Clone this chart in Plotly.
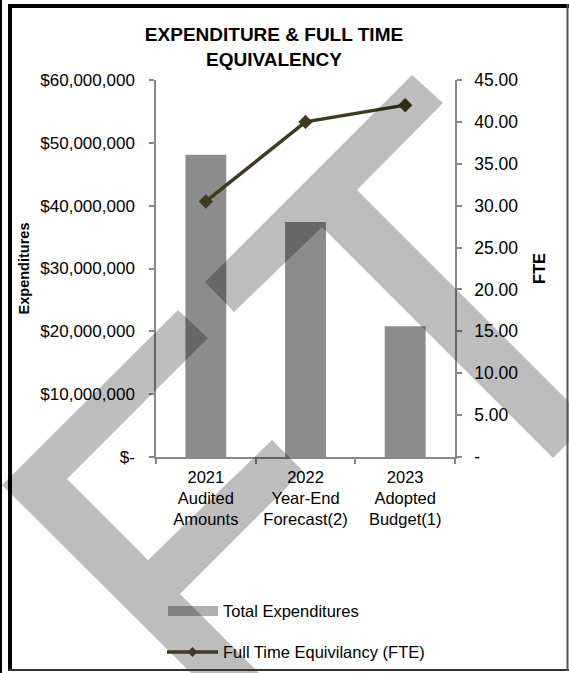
import plotly.graph_objects as go

# ---------------- data ----------------
categories = ["2021<br>Audited<br>Amounts", "2022<br>Year-End<br>Forecast(2)", "2023<br>Adopted<br>Budget(1)"]
expenditures = [48100000, 37400000, 20800000]
fte = [30.5, 40.0, 42.0]

exp_tickvals = [0, 10000000, 20000000, 30000000, 40000000, 50000000, 60000000]
exp_ticktext = ["$-", "$10,000,000", "$20,000,000", "$30,000,000", "$40,000,000", "$50,000,000", "$60,000,000"]
fte_tickvals = [0, 5, 10, 15, 20, 25, 30, 35, 40, 45]
fte_ticktext = ["-", "5.00", "10.00", "15.00", "20.00", "25.00", "30.00", "35.00", "40.00", "45.00"]

series_names = ["Total Expenditures", "Full Time Equivilancy (FTE)"]

# ---------------- layout constants ----------------
W, H = 569, 673
ML, MR, MT, MB = 156, 114, 80, 216
PW, PH = W - ML - MR, H - MT - MB
FONT = "Liberation Sans, Arial, sans-serif"
BAR_COLOR = "#8c8c8c"
LINE_COLOR = "#3f3a22"
AXIS_COLOR = "#888888"


def px(x):
    return (x - ML) / PW


def py(y):
    return (MT + PH - y) / PH


def path(pts):
    return "M " + " L ".join(f"{px(x):.5f},{py(y):.5f}" for x, y in pts) + " Z"


fig = go.Figure()
fig.add_trace(go.Bar(
    x=categories, y=expenditures, name=series_names[0],
    marker=dict(color=BAR_COLOR, line=dict(width=0)), width=0.41,
    yaxis="y", showlegend=False,
))
fig.add_trace(go.Scatter(
    x=categories, y=fte, name=series_names[1], yaxis="y2",
    mode="lines+markers",
    line=dict(color=LINE_COLOR, width=3.5),
    marker=dict(symbol="diamond", size=11, color=LINE_COLOR),
    showlegend=False,
))

shapes = []
# watermark (decorative stamp)
wm1 = [(2, 485), (178, 310), (208, 338), (67, 479), (148, 560), (272, 440), (303, 471),
       (180, 594), (259, 673), (191, 673)]
wm2 = [(205, 282), (412, 75), (443, 103), (357, 190), (569, 402), (569, 442), (553, 458),
       (322, 227), (234, 312)]
for poly in (wm1, wm2):
    shapes.append(dict(type="path", path=path(poly), xref="paper", yref="paper",
                       fillcolor="rgba(0,0,0,0.26)", line=dict(width=0), layer="above"))

# manual legend
shapes.append(dict(type="rect", xref="paper", yref="paper",
                   x0=px(168), x1=px(218), y0=py(616), y1=py(606),
                   fillcolor="#b0b0b0", line=dict(width=0), layer="below"))
shapes.append(dict(type="line", xref="paper", yref="paper",
                   x0=px(167), x1=px(218), y0=py(652), y1=py(652),
                   line=dict(color=LINE_COLOR, width=3.5)))
shapes.append(dict(type="path", xref="paper", yref="paper",
                   path=path([(192.5, 647), (197.5, 652), (192.5, 657), (187.5, 652)]),
                   fillcolor=LINE_COLOR, line=dict(width=0)))

# frame borders
shapes += [
    dict(type="line", xref="paper", yref="paper", x0=px(8), x1=px(569), y0=py(6), y1=py(6),
         line=dict(color="black", width=4)),
    dict(type="line", xref="paper", yref="paper", x0=px(10), x1=px(10), y0=py(4), y1=py(671),
         line=dict(color="black", width=4)),
    dict(type="line", xref="paper", yref="paper", x0=px(8), x1=px(569), y0=py(670), y1=py(670),
         line=dict(color="#333333", width=2)),
    dict(type="line", xref="paper", yref="paper", x0=px(567.5), x1=px(567.5), y0=py(4), y1=py(671),
         line=dict(color="#555555", width=2)),
    dict(type="line", xref="paper", yref="paper", x0=px(1), x1=px(1), y0=py(0), y1=py(673),
         line=dict(color="black", width=2)),
]

annotations = [
    dict(text=series_names[0], xref="paper", yref="paper", x=px(221), y=py(611),
         xanchor="left", yanchor="middle", showarrow=False,
         font=dict(family=FONT, size=16.5, color="black")),
    dict(text=series_names[1], xref="paper", yref="paper", x=px(221), y=py(652),
         xanchor="left", yanchor="middle", showarrow=False,
         font=dict(family=FONT, size=16.5, color="black")),
]

fig.update_layout(
    width=W, height=H,
    margin=dict(l=ML, r=MR, t=MT, b=MB, pad=0),
    paper_bgcolor="white", plot_bgcolor="white",
    font=dict(family=FONT, color="black"),
    title=dict(text="<b>EXPENDITURE & FULL TIME<br>EQUIVALENCY</b>",
               x=274 / W, xanchor="center", xref="container",
               y=1 - 41 / H, yanchor="top", yref="container",
               font=dict(family=FONT, size=19, color="black")),
    bargap=0.59,
    showlegend=False,
    xaxis=dict(
        showline=True, linecolor=AXIS_COLOR, linewidth=1.5, mirror=False,
        ticks="outside", tickson="boundaries", ticklen=5, tickcolor=AXIS_COLOR, tickwidth=1.5,
        tickfont=dict(family=FONT, size=16.5), showgrid=False, zeroline=False,
        ticklabelstandoff=4,
    ),
    yaxis=dict(
        range=[0, 60000000], tickvals=exp_tickvals, ticktext=exp_ticktext,
        showline=True, linecolor=AXIS_COLOR, linewidth=1.5,
        ticks="outside", ticklen=5, tickcolor=AXIS_COLOR, tickwidth=1.5,
        tickfont=dict(family=FONT, size=17), showgrid=False, zeroline=False,
        ticklabelstandoff=11,
        title=dict(text="<b>Expenditures</b>", font=dict(family=FONT, size=14.5), standoff=7),
    ),
    yaxis2=dict(
        range=[0, 45], tickvals=fte_tickvals, ticktext=fte_ticktext,
        overlaying="y", side="right",
        showline=True, linecolor=AXIS_COLOR, linewidth=1.5,
        ticks="outside", ticklen=5, tickcolor=AXIS_COLOR, tickwidth=1.5,
        tickfont=dict(family=FONT, size=17.5), showgrid=False, zeroline=False,
        ticklabelstandoff=9,
        title=dict(text="<b>FTE</b>", font=dict(family=FONT, size=16.5), standoff=16),
    ),
    shapes=shapes,
    annotations=annotations,
)

fig.write_html("out.html")
